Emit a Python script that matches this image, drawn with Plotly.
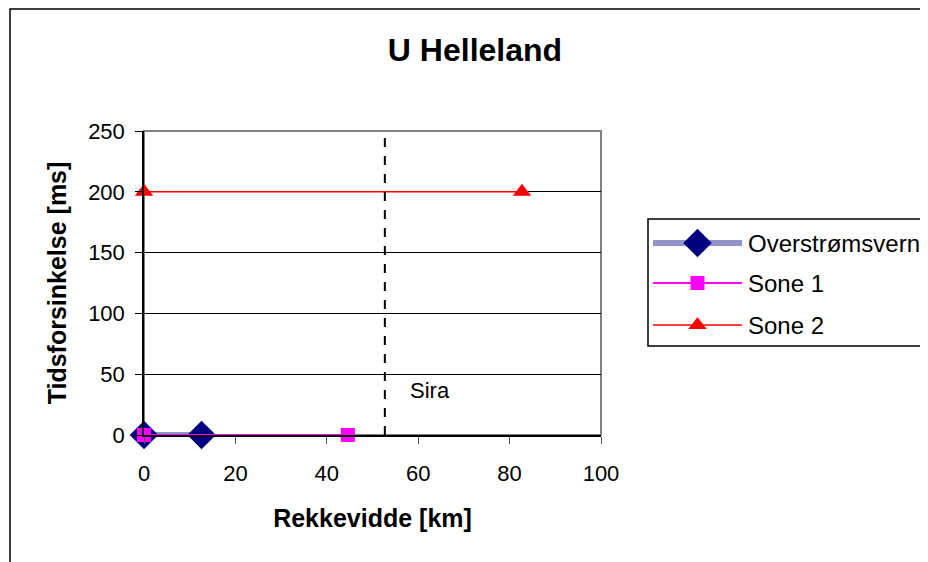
import plotly.graph_objects as go

title = "U Helleland"
x_title = "Rekkevidde [km]"
y_title = "Tidsforsinkelse [ms]"

series_names = ["Overstrømsvern", "Sone 1", "Sone 2"]
over_x = [0, 12.6]
over_y = [0, 0]
sone1_x = [0, 44.6]
sone1_y = [0, 0]
sone2_x = [0, 82.7]
sone2_y = [200, 200]

sira_x = 52.7
sira_label = "Sira"
sira_label_x = 62.5
sira_label_y = 37

x_ticks = [0, 20, 40, 60, 80, 100]
y_ticks = [0, 50, 100, 150, 200, 250]

# page has an 8px body margin, so the figure is sized to fit the window
W, H = 920, 554
L, R, T, B = 136, 593, 123, 427      # plot area in figure pixels
PW = W - L                           # paper width (right margin 0)
PH = B - T

def pxx(x):
    return (x - L) / PW

def pyy(y):
    return (B - y) / PH

font = "Liberation Sans, Arial, sans-serif"

styles = [
    dict(line=dict(color="#9494cc", width=6),
         marker=dict(symbol="diamond", size=22, color="#000080")),
    dict(line=dict(color="#ff00ff", width=2),
         marker=dict(symbol="square", size=14, color="#ff00ff")),
    dict(line=dict(color="#ff0000", width=1.5),
         marker=dict(symbol="triangle-up", size=16, color="#ff0000")),
]
data = [(over_x, over_y), (sone1_x, sone1_y), (sone2_x, sone2_y)]

fig = go.Figure()
for name, (xs, ys), st in zip(series_names, data, styles):
    fig.add_trace(go.Scatter(x=xs, y=ys, name=name, mode="lines+markers",
                             cliponaxis=False, showlegend=False,
                             xaxis="x", yaxis="y", **st))

# custom legend (in a pixel-space axis pair covering the paper)
leg_rows = [235, 275, 317]
leg_x0, leg_x1 = 645, 734
annotations = []
for name, st, yy in zip(series_names, styles, leg_rows):
    fig.add_trace(go.Scatter(x=[leg_x0, leg_x1], y=[yy, yy], mode="lines",
                             line=st["line"], showlegend=False, hoverinfo="skip",
                             xaxis="x2", yaxis="y2", cliponaxis=False))
    fig.add_trace(go.Scatter(x=[(leg_x0 + leg_x1) / 2], y=[yy], mode="markers",
                             marker=st["marker"], showlegend=False, hoverinfo="skip",
                             xaxis="x2", yaxis="y2", cliponaxis=False))
    annotations.append(dict(x=738, y=yy, xref="x2", yref="y2", text=name,
                            xanchor="left", yanchor="middle", showarrow=False,
                            font=dict(size=24)))

annotations.append(dict(x=sira_label_x, y=sira_label_y, xref="x", yref="y",
                        text=sira_label, showarrow=False, font=dict(size=22)))

shapes = [
    # outer chart border (extends off-canvas right/bottom)
    dict(type="rect", xref="paper", yref="paper",
         x0=pxx(2), x1=pxx(1100), y0=pyy(700), y1=pyy(1),
         line=dict(color="black", width=1.5), layer="below"),
    # legend box
    dict(type="rect", xref="paper", yref="paper",
         x0=pxx(640), x1=pxx(1100), y0=pyy(338), y1=pyy(211),
         line=dict(color="black", width=1.5), layer="below"),
    # plot area border (gray)
    dict(type="rect", xref="paper", yref="paper",
         x0=0, x1=(R - L) / PW, y0=0, y1=1,
         line=dict(color="#808080", width=2), layer="below"),
    # Sira vertical dashed line
    dict(type="line", xref="x", yref="y",
         x0=sira_x, x1=sira_x, y0=0, y1=250,
         line=dict(color="black", width=2, dash="dash"), layer="above"),
]

fig.update_layout(
    width=W, height=H,
    margin=dict(l=L, r=0, t=T, b=H - B, autoexpand=False),
    paper_bgcolor="white", plot_bgcolor="rgba(0,0,0,0)",
    font=dict(family=font, size=22, color="black"),
    showlegend=False,
    title=dict(text="<b>" + title + "</b>", xref="container", x=467 / W,
               xanchor="center", yref="container", y=1 - 42 / H,
               yanchor="middle", font=dict(size=32, family=font)),
    xaxis=dict(domain=[0, (R - L) / PW], range=[0, 100], tickvals=x_ticks,
               showgrid=False, zeroline=False,
               showline=True, linecolor="black", linewidth=1.5,
               ticks="outside", ticklen=7, tickcolor="#505050",
               ticklabelstandoff=11,
               title=dict(text="<b>" + x_title + "</b>", standoff=24,
                          font=dict(size=25))),
    yaxis=dict(domain=[0, 1], range=[0, 250], tickvals=y_ticks,
               showgrid=True, gridcolor="black", gridwidth=1, zeroline=False,
               showline=True, linecolor="black", linewidth=1.5,
               ticks="outside", ticklen=7, tickcolor="black",
               ticklabelstandoff=6,
               title=dict(text="<b>" + y_title + "</b>", standoff=14,
                          font=dict(size=25))),
    xaxis2=dict(domain=[0, 1], range=[L, W], visible=False, anchor="y2"),
    yaxis2=dict(domain=[0, 1], range=[B, T], visible=False, anchor="x2"),
    shapes=shapes,
    annotations=annotations,
)

fig.write_html("out.html")
